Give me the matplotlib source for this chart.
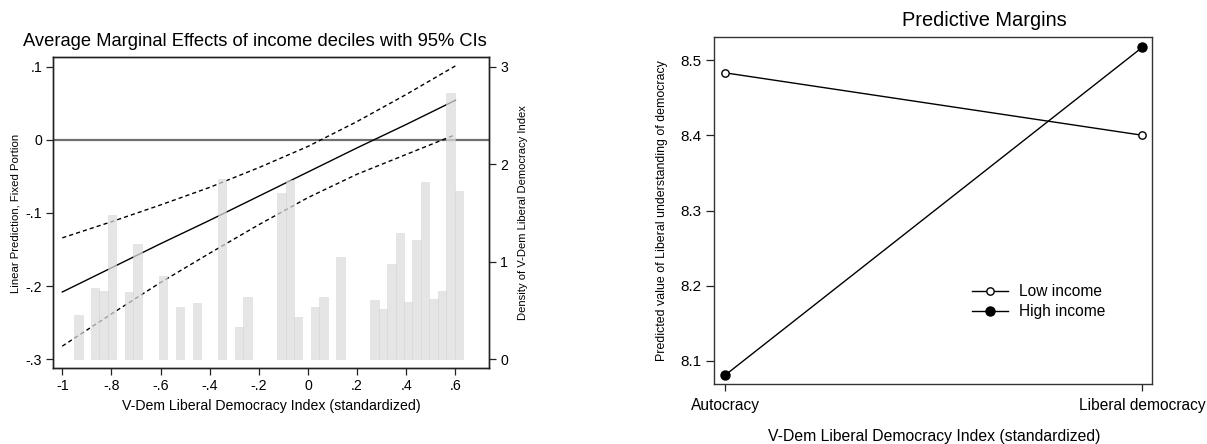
import matplotlib
matplotlib.use("Agg")
from matplotlib import pyplot as plt
import numpy as np

plt.rcParams['font.family'] = ['Liberation Sans', 'DejaVu Sans']

# ---- left panel data ----
me_x = [-1, -0.8, -0.6, -0.4, -0.2, 0, 0.2, 0.4, 0.6]
me_fit = [-0.208, -0.175, -0.142, -0.110, -0.077, -0.044, -0.011, 0.021, 0.054]
me_upper = [-0.134, -0.112, -0.089, -0.065, -0.038, -0.009, 0.025, 0.062, 0.101]
me_lower = [-0.282, -0.238, -0.195, -0.155, -0.116, -0.079, -0.047, -0.020, 0.007]

# histogram of V-Dem index (46 bins between -0.952 and 0.632)
hist_lo, hist_hi, hist_n = -0.952, 0.632, 46
hist_density = [0.45, 0, 0.73, 0.70, 1.48, 0, 0.69, 1.18, 0, 0, 0.85, 0,
                0.54, 0, 0.58, 0, 0, 1.85, 0, 0.33, 0.64, 0, 0, 0,
                1.70, 1.84, 0.43, 0, 0.54, 0.64, 0, 1.05, 0, 0, 0,
                0.61, 0.52, 0.98, 1.29, 0.59, 1.22, 1.82, 0.62, 0.70, 2.73, 1.73]

left_xticks = [-1, -0.8, -0.6, -0.4, -0.2, 0, 0.2, 0.4, 0.6]
left_xticklabels = ['-1', '-.8', '-.6', '-.4', '-.2', '0', '.2', '.4', '.6']
left_yticks = [0.1, 0, -0.1, -0.2, -0.3]
left_yticklabels = ['.1', '0', '-.1', '-.2', '-.3']
dens_ticks = [0, 1, 2, 3]

# ---- right panel data ----
regimes = ['Autocracy', 'Liberal democracy']
low_income = [8.483, 8.400]
high_income = [8.081, 8.517]
right_yticks = [8.1, 8.2, 8.3, 8.4, 8.5]

fig = plt.figure(figsize=(12.07, 4.44), dpi=100)
W, H = 1207.0, 444.0

# ================= left panel =================
ax = fig.add_axes([53.3 / W, 1 - 368.3 / H, (489 - 53.3) / W, (368.3 - 57.3) / H])
ax.axhline(0, color='#707070', lw=1.6, zorder=1)
ax.plot(me_x, me_fit, color='black', lw=1.0, zorder=2)
ax.plot(me_x, me_upper, color='black', lw=1.0, ls=(0, (3, 2.2)), zorder=2)
ax.plot(me_x, me_lower, color='black', lw=1.0, ls=(0, (3, 2.2)), zorder=2)
ax.set_xlim(-1.0366, 0.737)
ax.set_ylim(-0.3123, 0.1128)
ax.set_xticks(left_xticks)
ax.set_xticklabels(left_xticklabels)
ax.set_yticks(left_yticks)
ax.set_yticklabels(left_yticklabels)
ax.tick_params(direction='out', length=5, width=0.9, labelsize=10.2, pad=3, color='#222222')

ax2 = ax.twinx()
edges = np.linspace(hist_lo, hist_hi, hist_n + 1)
bw = edges[1] - edges[0]
dens = np.array(hist_density)
keep = dens > 0
ax2.bar(edges[:-1][keep], dens[keep], width=bw, align='edge', color='#dcdcdc',
        alpha=0.72, edgecolor='#d0d0d0', linewidth=0.4)
ax2.set_ylim(7.5 * (-0.3123 + 0.3), 7.5 * (0.1128 + 0.3))
ax2.set_yticks(dens_ticks)
ax2.set_yticklabels([str(t) for t in dens_ticks])
ax2.tick_params(direction='out', length=5, width=0.9, labelsize=10.2, pad=3, color='#222222')
for a in (ax, ax2):
    for s in a.spines.values():
        s.set_color('#222222')
        s.set_linewidth(1.0)

fig.text(255 / W, 1 - 41.7 / H, 'Average Marginal Effects of income deciles with 95% CIs',
         ha='center', va='center', fontsize=13.2)
fig.text(271 / W, 1 - 406 / H, 'V-Dem Liberal Democracy Index (standardized)',
         ha='center', va='center', fontsize=10.2)
fig.text(16 / W, 1 - 213 / H, 'Linear Prediction, Fixed Portion',
         ha='center', va='center', rotation=90, fontsize=8.2)
fig.text(523 / W, 1 - 213 / H, 'Density of V-Dem Liberal Democracy Index',
         ha='center', va='center', rotation=90, fontsize=8.1)

# ================= right panel =================
bx = fig.add_axes([714.3 / W, 1 - 384.3 / H, (1152 - 714.3) / W, (384.3 - 36.7) / H])
xpos = np.arange(len(regimes))
bx.plot(xpos, low_income, color='black', lw=1.0, marker='o', ms=5.3,
        mfc='white', mec='black', mew=1.0, label='Low income')
bx.plot(xpos, high_income, color='black', lw=1.0, marker='o', ms=6.5,
        mfc='black', mec='black', label='High income')
bx.set_xlim(-0.0256, 1.023)
bx.set_ylim(8.069, 8.531)
bx.set_xticks(xpos)
bx.set_xticklabels(regimes)
bx.set_yticks(right_yticks)
bx.set_yticklabels(['%.1f' % v for v in right_yticks])
bx.tick_params(axis='y', direction='out', length=6, width=0.9, labelsize=11, pad=3.5, color='#222222')
bx.tick_params(axis='x', direction='out', length=5, width=0.9, labelsize=11.2, pad=5, color='#222222')
for s in bx.spines.values():
    s.set_color('#333333')
    s.set_linewidth(1.0)

bx.legend(loc='center left', bbox_to_anchor=(972 / W, 1 - 301.7 / H),
          bbox_transform=fig.transFigure, frameon=False, fontsize=11.2,
          handlelength=2.3, handletextpad=0.7, labelspacing=0.35,
          borderpad=0, borderaxespad=0)

fig.text(984 / W, 1 - 20 / H, 'Predictive Margins', ha='center', va='center', fontsize=14.4)
fig.text(933.7 / W, 1 - 436.7 / H, 'V-Dem Liberal Democracy Index (standardized)',
         ha='center', va='center', fontsize=11.3)
fig.text(661.7 / W, 1 - 211 / H, 'Predicted value of Liberal understanding of democracy',
         ha='center', va='center', rotation=90, fontsize=8.9)

fig.savefig('out.png', dpi=100)
